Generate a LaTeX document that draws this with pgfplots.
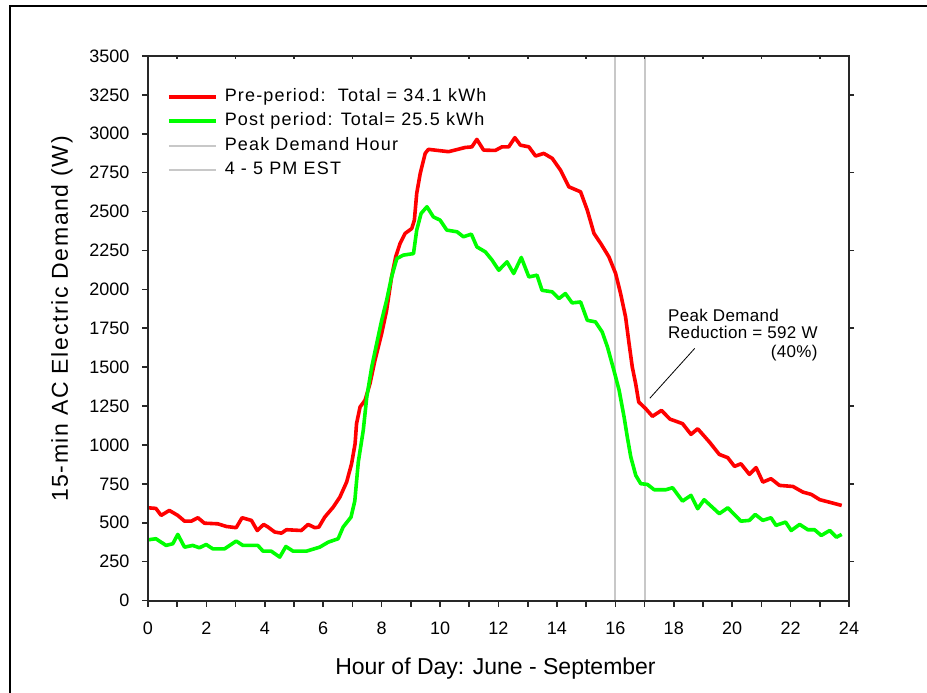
\documentclass[border=0pt]{standalone}
\usepackage{fontspec}
\setmainfont{Liberation Sans}
\usepackage{pgfplots}
\pgfplotsset{compat=1.18}
\definecolor{pre}{RGB}{255,0,0}
\definecolor{post}{RGB}{0,255,0}
\definecolor{vline}{RGB}{200,200,200}
\definecolor{axisc}{RGB}{40,40,40}

\pgfplotstableread{
x y
0 596
0.27 592
0.45 547
0.73 579
1.02 547
1.25 510
1.48 510
1.71 532
1.93 497
2.39 493
2.68 476
3.02 468
3.22 532
3.54 515
3.74 450
3.96 489
4.11 472
4.34 440
4.57 433
4.74 455
5.25 450
5.48 489
5.71 468
5.85 472
6.05 536
6.34 600
6.57 665
6.80 761
6.97 879
7.09 1008
7.14 1137
7.26 1244
7.43 1287
7.60 1394
7.77 1544
8.00 1716
8.17 1866
8.34 2080
8.48 2209
8.63 2295
8.80 2359
9.03 2391
9.12 2445
9.20 2617
9.32 2745
9.49 2874
9.60 2900
10.29 2885
10.86 2912
11.09 2916
11.26 2964
11.49 2895
11.89 2893
12.12 2916
12.35 2916
12.56 2975
12.75 2927
13.04 2916
13.27 2857
13.55 2874
13.84 2842
14.12 2767
14.41 2659
14.81 2627
15.04 2509
15.27 2359
15.50 2295
15.78 2209
16.01 2102
16.18 1973
16.35 1823
16.47 1652
16.58 1501
16.70 1390
16.80 1276
17.04 1233
17.27 1184
17.58 1222
17.87 1166
18.30 1137
18.59 1068
18.82 1104
19.22 1019
19.56 939
19.85 918
20.08 862
20.30 879
20.59 811
20.82 854
21.05 761
21.33 783
21.62 740
22.08 733
22.42 697
22.71 682
23.00 648
23.45 626
23.75 611
}\predata

\pgfplotstableread{
x y
0 390
0.27 397
0.62 354
0.85 365
1.02 425
1.25 343
1.53 354
1.76 339
1.99 360
2.22 332
2.62 332
3.02 382
3.25 354
3.76 354
3.94 317
4.22 317
4.51 279
4.72 347
4.97 317
5.42 317
5.88 343
6.17 375
6.51 397
6.68 472
6.95 536
7.08 640
7.20 890
7.37 1094
7.49 1308
7.66 1501
7.83 1652
8.00 1801
8.17 1930
8.34 2080
8.52 2198
8.74 2220
9.09 2230
9.20 2381
9.35 2488
9.55 2531
9.77 2466
10.00 2445
10.23 2381
10.58 2370
10.80 2338
11.07 2355
11.26 2273
11.55 2241
11.78 2188
12.01 2123
12.29 2177
12.52 2102
12.78 2205
13.04 2080
13.32 2091
13.49 1994
13.84 1984
14.07 1941
14.29 1973
14.52 1913
14.81 1919
15.04 1801
15.32 1791
15.55 1726
15.73 1630
15.95 1480
16.13 1351
16.30 1179
16.41 1051
16.53 922
16.70 804
16.87 751
17.10 746
17.33 712
17.73 712
17.96 725
18.30 639
18.59 676
18.82 590
19.04 648
19.56 558
19.85 596
20.30 510
20.59 515
20.79 553
21.05 515
21.33 532
21.50 483
21.83 504
22.02 450
22.31 489
22.59 455
22.82 455
23.05 418
23.34 450
23.57 407
23.75 425
}\postdata

\begin{document}
\begin{tikzpicture}
\useasboundingbox (0pt,0pt) rectangle (927pt,-693pt);
\draw[line width=2pt] (10pt,-700pt) -- (10pt,-6pt) -- (940pt,-6pt);

\begin{axis}[
  at={(148pt,-600.5pt)}, anchor=south west,
  scale only axis, width=701pt, height=544.5pt,
  xmin=0, xmax=24, ymin=0, ymax=3500,
  axis line style={line width=2pt, axisc},
  every tick/.style={line width=1.6pt, axisc},
  tick align=outside,
  major tick length=6pt, minor tick length=6pt,
  xtick={0,2,...,24}, minor xtick={1,3,...,23},
  ytick={0,250,...,3500},
  xtick pos=left, ytick pos=left,
  ticklabel style={font=\fontsize{18}{20}\selectfont},
  xticklabel style={yshift=-12pt},
  yticklabel style={xshift=-9pt},
  /pgf/number format/assume math mode=true,
  /pgf/number format/1000 sep={},
  xlabel={Hour of Day: June - September},
  ylabel={15-min AC Electric Demand (W)},
  label style={font=\fontsize{23}{25}\selectfont},
  xlabel style={at={(axis description cs:0.4957,-0.1258)}, anchor=center},
  ylabel style={at={(axis description cs:-0.1227,0.5170)}, anchor=center,
    font=\fontsize{23}{25}\selectfont\addfontfeature{LetterSpace=7}},
  legend style={draw=none, fill=none, at={(rel axis cs:0.0271,0.9412)}, anchor=north west,
    font=\fontsize{18}{20}\selectfont\addfontfeature{LetterSpace=6.5}, row sep=7.5pt, inner sep=0pt, column sep=7pt,
    nodes={inner sep=0pt, text height=13pt, text depth=4pt}},
  legend cell align=left,
  legend image code/.code={\draw[#1] (0pt,0pt) -- (47pt,0pt);},
]
\addplot[vline, line width=2pt, forget plot] coordinates {(16,0) (16,3500)};
\addplot[vline, line width=2pt, forget plot] coordinates {(17,0) (17,3500)};
\addplot[pre, line width=3.6pt, line join=round] table {\predata};
\addlegendentry{Pre-period:\ \ Total = 34.1 kWh}
\addplot[post, line width=3.6pt, line join=round] table {\postdata};
\addlegendentry{Post period: Total= 25.5 kWh}
\addlegendimage{vline, line width=2pt}
\addlegendentry{Peak Demand Hour}
\addlegendimage{vline, line width=2pt}
\addlegendentry{4 - 5 PM EST}
\draw[black, line width=0.8pt] (axis cs:17.18,1300) -- (axis cs:18.72,1621);
\node[anchor=west, inner sep=0pt, font=\fontsize{17}{17}\selectfont\addfontfeature{LetterSpace=2}] at (axis cs:17.80,1834) {Peak Demand};
\node[anchor=west, inner sep=0pt, font=\fontsize{17}{17}\selectfont\addfontfeature{LetterSpace=2}] at (axis cs:17.80,1724) {Reduction = 592 W};
\node[anchor=east, inner sep=0pt, font=\fontsize{17}{17}\selectfont\addfontfeature{LetterSpace=2}] at (axis cs:22.93,1589) {(40\%)};
\end{axis}

\begin{axis}[
  at={(148pt,-600.5pt)}, anchor=south west,
  scale only axis, width=701pt, height=544.5pt,
  xmin=0, xmax=24, ymin=0, ymax=3500,
  axis line style={line width=2pt, axisc},
  every tick/.style={line width=1.6pt, axisc},
  tick align=inside, major tick length=3pt,
  xtick={1,3,...,23}, ytick=\empty,
  xtick pos=right, xticklabels={},
]
\end{axis}

\begin{axis}[
  at={(148pt,-600.5pt)}, anchor=south west,
  scale only axis, width=701pt, height=544.5pt,
  xmin=0, xmax=24, ymin=0, ymax=3500,
  axis line style={line width=2pt, axisc},
  every tick/.style={line width=1.6pt, axisc},
  tick align=outside, major tick length=5pt,
  ytick={250,750,...,3250}, xtick=\empty,
  ytick pos=right, yticklabels={},
]
\end{axis}
\end{tikzpicture}
\end{document}
